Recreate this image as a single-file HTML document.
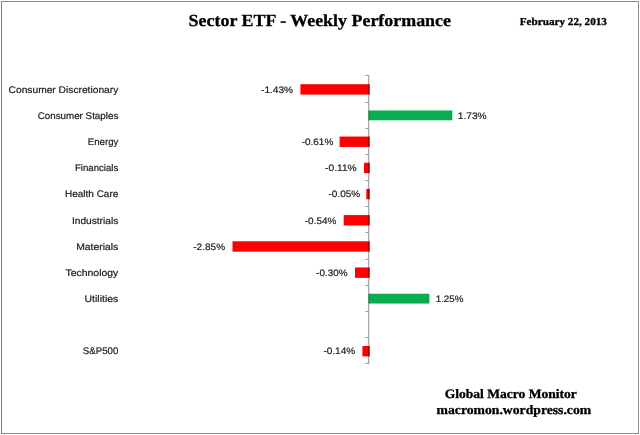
<!DOCTYPE html>
<html lang="en"><head><meta charset="utf-8"><title>Sector ETF - Weekly Performance</title>
<style>
html,body{margin:0;padding:0;background:#fff;}
body{width:640px;height:435px;overflow:hidden;position:relative;}
svg{display:block;position:absolute;left:0;top:0;}
text{text-rendering:geometricPrecision;}
.t{font-family:"Liberation Serif",serif;font-weight:bold;fill:#000;stroke:#000;stroke-width:0.3px;}
.l{font-family:"Liberation Sans",sans-serif;font-size:9.6px;fill:#1c1c1c;stroke:#1c1c1c;stroke-width:0.2px;}
.v{font-family:"Liberation Sans",sans-serif;font-size:9.4px;fill:#1c1c1c;stroke:#1c1c1c;stroke-width:0.2px;}
</style></head><body>
<svg width="640" height="435" viewBox="0 0 640 435">
<rect x="0" y="0" width="640" height="435" fill="#ffffff"/>
<rect x="1.5" y="1.5" width="637" height="432" fill="none" stroke="#8c8c8c" stroke-width="1"/>
<line x1="1.5" y1="1" x2="1.5" y2="434" stroke="#7e7e7e" stroke-width="1"/>
<text class="t" x="188.6" y="25.6" font-size="16.9" textLength="262.4" lengthAdjust="spacingAndGlyphs">Sector ETF - Weekly Performance</text>
<text class="t" x="519.8" y="25.4" font-size="10.6" textLength="87.1" lengthAdjust="spacingAndGlyphs">February 22, 2013</text>
<text class="t" x="444.7" y="398.1" font-size="12.9" textLength="132.2" lengthAdjust="spacingAndGlyphs">Global Macro Monitor</text>
<text class="t" x="436.6" y="413.8" font-size="12.9" textLength="154.6" lengthAdjust="spacingAndGlyphs">macromon.wordpress.com</text>
<text class="l" x="8.60" y="92.60" textLength="109.70" lengthAdjust="spacingAndGlyphs">Consumer Discretionary</text>
<rect x="300.40" y="84.20" width="69.40" height="10.4" fill="#ff0000"/>
<text class="v" x="261.00" y="92.60" textLength="32.15" lengthAdjust="spacingAndGlyphs">-1.43%</text>
<text class="l" x="37.70" y="118.78" textLength="80.60" lengthAdjust="spacingAndGlyphs">Consumer Staples</text>
<rect x="368.50" y="110.48" width="83.80" height="9.8" fill="#08ad50"/>
<text class="v" x="457.75" y="118.78" textLength="28.90" lengthAdjust="spacingAndGlyphs">1.73%</text>
<text class="l" x="87.85" y="144.96" textLength="30.45" lengthAdjust="spacingAndGlyphs">Energy</text>
<rect x="339.60" y="136.56" width="30.20" height="10.4" fill="#ff0000"/>
<text class="v" x="301.70" y="144.96" textLength="31.60" lengthAdjust="spacingAndGlyphs">-0.61%</text>
<text class="l" x="74.90" y="171.14" textLength="43.40" lengthAdjust="spacingAndGlyphs">Financials</text>
<rect x="364.00" y="162.74" width="5.80" height="10.4" fill="#ff0000"/>
<text class="v" x="325.10" y="171.14" textLength="31.55" lengthAdjust="spacingAndGlyphs">-0.11%</text>
<text class="l" x="65.00" y="197.32" textLength="53.30" lengthAdjust="spacingAndGlyphs">Health Care</text>
<rect x="366.30" y="188.92" width="3.50" height="10.4" fill="#ff0000"/>
<text class="v" x="328.50" y="197.32" textLength="31.65" lengthAdjust="spacingAndGlyphs">-0.05%</text>
<text class="l" x="71.90" y="223.50" textLength="46.40" lengthAdjust="spacingAndGlyphs">Industrials</text>
<rect x="343.70" y="215.10" width="26.10" height="10.4" fill="#ff0000"/>
<text class="v" x="304.75" y="223.50" textLength="31.65" lengthAdjust="spacingAndGlyphs">-0.54%</text>
<text class="l" x="76.20" y="249.68" textLength="42.10" lengthAdjust="spacingAndGlyphs">Materials</text>
<rect x="232.50" y="241.28" width="137.30" height="10.4" fill="#ff0000"/>
<text class="v" x="193.25" y="249.68" textLength="31.85" lengthAdjust="spacingAndGlyphs">-2.85%</text>
<text class="l" x="65.50" y="275.86" textLength="52.80" lengthAdjust="spacingAndGlyphs">Technology</text>
<rect x="355.00" y="267.46" width="14.80" height="10.4" fill="#ff0000"/>
<text class="v" x="316.10" y="275.86" textLength="31.50" lengthAdjust="spacingAndGlyphs">-0.30%</text>
<text class="l" x="84.50" y="302.04" textLength="33.80" lengthAdjust="spacingAndGlyphs">Utilities</text>
<rect x="368.50" y="293.74" width="60.90" height="9.8" fill="#08ad50"/>
<text class="v" x="435.70" y="302.04" textLength="27.80" lengthAdjust="spacingAndGlyphs">1.25%</text>
<text class="l" x="82.80" y="354.40" textLength="35.50" lengthAdjust="spacingAndGlyphs">S&amp;P500</text>
<rect x="362.40" y="346.00" width="7.40" height="10.4" fill="#ff0000"/>
<text class="v" x="323.40" y="354.40" textLength="31.80" lengthAdjust="spacingAndGlyphs">-0.14%</text>
<g stroke="#828282" stroke-width="0.9" fill="none" style="mix-blend-mode:multiply">
<line x1="368.75" y1="75.30" x2="368.75" y2="364.28"/>
<line x1="365.4" y1="75.50" x2="368.75" y2="75.50" stroke-width="1" stroke="#9a9a9a"/>
<line x1="365.4" y1="102.50" x2="368.75" y2="102.50" stroke-width="1" stroke="#9a9a9a"/>
<line x1="365.4" y1="128.50" x2="368.75" y2="128.50" stroke-width="1" stroke="#9a9a9a"/>
<line x1="365.4" y1="154.50" x2="368.75" y2="154.50" stroke-width="1" stroke="#9a9a9a"/>
<line x1="365.4" y1="180.50" x2="368.75" y2="180.50" stroke-width="1" stroke="#9a9a9a"/>
<line x1="365.4" y1="206.50" x2="368.75" y2="206.50" stroke-width="1" stroke="#9a9a9a"/>
<line x1="365.4" y1="232.50" x2="368.75" y2="232.50" stroke-width="1" stroke="#9a9a9a"/>
<line x1="365.4" y1="259.50" x2="368.75" y2="259.50" stroke-width="1" stroke="#9a9a9a"/>
<line x1="365.4" y1="285.50" x2="368.75" y2="285.50" stroke-width="1" stroke="#9a9a9a"/>
<line x1="365.4" y1="311.50" x2="368.75" y2="311.50" stroke-width="1" stroke="#9a9a9a"/>
<line x1="365.4" y1="337.50" x2="368.75" y2="337.50" stroke-width="1" stroke="#9a9a9a"/>
<line x1="365.4" y1="363.50" x2="368.75" y2="363.50" stroke-width="1" stroke="#9a9a9a"/>
</g>
</svg>
</body></html>
